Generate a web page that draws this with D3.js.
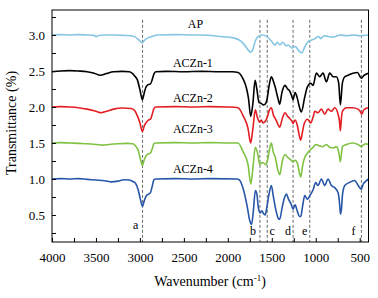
<!DOCTYPE html>
<html>
<head>
<meta charset="utf-8">
<script src="https://cdn.jsdelivr.net/npm/d3@7"></script>
<style>
  body { margin: 0; background: #fff; }
</style>
</head>
<body>
<svg id="chart" width="378" height="298" font-family="Liberation Serif"></svg>
<script>
// spectra as [wavenumber, transmittance]
const apData = [
  [4000, 3.0], [3900, 3.005], [3800, 3.0], [3700, 3.005], [3600, 3.0], [3520, 2.995], [3495, 2.975],
  [3480, 2.99], [3400, 3.0], [3300, 3.0], [3200, 2.995], [3100, 2.99], [3050, 2.97], [3010, 2.93],
  [2975, 2.89], [2945, 2.93], [2910, 2.96], [2870, 2.975], [2840, 2.99], [2800, 3.0], [2600, 3.005],
  [2400, 3.0], [2316, 3.0], [2089, 2.98], [1937, 2.96], [1870, 2.93], [1823, 2.88], [1767, 2.79],
  [1740, 2.76], [1715, 2.8], [1690, 2.91], [1653, 2.98], [1614, 3.0], [1558, 2.98], [1501, 2.91],
  [1463, 2.86], [1437, 2.9], [1406, 2.86], [1376, 2.9], [1338, 2.85], [1312, 2.86], [1273, 2.82],
  [1235, 2.84], [1198, 2.79], [1160, 2.75], [1122, 2.84], [1084, 2.91], [1046, 2.93], [1008, 2.95],
  [970, 2.98], [943, 2.95], [906, 2.99], [857, 2.98], [800, 2.97], [724, 3.0], [647, 2.99],
  [572, 3.0], [496, 2.99], [400, 3.0]
];

const aczn1 = [
  [4000, 2.49], [3900, 2.5], [3800, 2.505], [3700, 2.5], [3600, 2.49], [3520, 2.47], [3450, 2.44],
  [3380, 2.465], [3300, 2.49], [3200, 2.495], [3120, 2.49], [3080, 2.46], [3060, 2.43], [3030, 2.38],
  [3000, 2.24], [2972, 2.1], [2950, 2.2], [2930, 2.28], [2905, 2.31], [2880, 2.32], [2860, 2.38],
  [2840, 2.46], [2820, 2.49], [2700, 2.495], [2500, 2.49], [2300, 2.495], [2100, 2.49], [1950, 2.49],
  [1884, 2.48], [1827, 2.39], [1790, 2.27], [1765, 2.12], [1740, 1.87], [1715, 2.05], [1690, 2.37],
  [1670, 2.25], [1645, 2.06], [1620, 2.05], [1600, 2.03], [1575, 2.04], [1555, 2.1], [1530, 2.3],
  [1505, 2.42], [1480, 2.35], [1460, 2.27], [1430, 2.12], [1410, 2.04], [1385, 2.2], [1350, 2.3],
  [1320, 2.25], [1296, 2.22], [1270, 2.14], [1258, 2.1], [1235, 2.2], [1209, 2.12], [1190, 2.02],
  [1164, 1.93], [1125, 2.14], [1095, 2.28], [1057, 2.33], [1031, 2.3], [993, 2.47], [955, 2.42],
  [917, 2.47], [879, 2.35], [841, 2.47], [803, 2.42], [766, 2.42], [739, 2.33], [720, 2.03],
  [697, 2.33], [670, 2.42], [633, 2.44], [576, 2.47], [527, 2.48], [481, 2.4], [451, 2.44], [400, 2.47]
];

const aczn2 = [
  [4000, 2.0], [3900, 2.005], [3800, 2.0], [3700, 1.99], [3600, 1.97], [3500, 1.94], [3440, 1.92],
  [3380, 1.94], [3300, 1.97], [3200, 1.985], [3100, 1.98], [3060, 1.95], [3030, 1.88], [3000, 1.78],
  [2972, 1.66], [2950, 1.74], [2925, 1.79], [2900, 1.82], [2880, 1.83], [2860, 1.9], [2840, 1.98],
  [2820, 2.0], [2600, 2.005], [2400, 2.0], [2200, 2.005], [2000, 2.0], [1884, 1.99], [1827, 1.88],
  [1770, 1.7], [1740, 1.5], [1715, 1.7], [1687, 1.96], [1665, 1.86], [1637, 1.79], [1620, 1.82],
  [1600, 1.78], [1575, 1.8], [1551, 1.86], [1530, 1.95], [1505, 1.99], [1480, 1.88], [1460, 1.84],
  [1430, 1.76], [1410, 1.72], [1380, 1.84], [1350, 1.92], [1325, 1.88], [1296, 1.84], [1270, 1.8],
  [1258, 1.77], [1235, 1.82], [1209, 1.74], [1190, 1.62], [1172, 1.54], [1150, 1.66], [1133, 1.76],
  [1095, 1.83], [1057, 1.78], [1030, 1.86], [1012, 1.94], [974, 1.92], [936, 1.97], [898, 1.9],
  [860, 1.97], [822, 1.94], [784, 1.99], [746, 1.9], [730, 1.8], [720, 1.67], [708, 1.85],
  [697, 1.94], [650, 1.99], [580, 1.99], [520, 1.97], [495, 1.94], [476, 1.9], [455, 1.96],
  [430, 1.98], [400, 1.99]
];

const aczn3 = [
  [4000, 1.5], [3900, 1.505], [3800, 1.5], [3700, 1.495], [3600, 1.49], [3500, 1.48], [3420, 1.47],
  [3350, 1.48], [3250, 1.49], [3150, 1.495], [3080, 1.49], [3050, 1.46], [3020, 1.4], [2995, 1.28],
  [2972, 1.19], [2950, 1.27], [2925, 1.33], [2900, 1.35], [2880, 1.36], [2860, 1.42], [2840, 1.49],
  [2820, 1.5], [2600, 1.505], [2400, 1.5], [2200, 1.505], [2000, 1.5], [1884, 1.5], [1827, 1.38],
  [1770, 1.2], [1738, 0.93], [1715, 1.15], [1687, 1.44], [1660, 1.35], [1637, 1.2], [1610, 1.23],
  [1590, 1.22], [1565, 1.2], [1545, 1.28], [1525, 1.42], [1505, 1.5], [1485, 1.38], [1460, 1.3],
  [1430, 1.12], [1410, 1.06], [1380, 1.25], [1350, 1.34], [1320, 1.3], [1296, 1.28], [1270, 1.25],
  [1258, 1.24], [1235, 1.26], [1209, 1.22], [1185, 1.08], [1170, 1.03], [1150, 1.18], [1133, 1.27],
  [1095, 1.36], [1057, 1.41], [1030, 1.44], [1000, 1.48], [955, 1.46], [917, 1.45], [879, 1.48],
  [841, 1.44], [803, 1.43], [766, 1.45], [746, 1.41], [732, 1.32], [720, 1.24], [708, 1.35],
  [697, 1.45], [650, 1.48], [580, 1.5], [520, 1.48], [481, 1.45], [460, 1.47], [430, 1.49], [400, 1.48]
];

const aczn4 = [
  [4000, 1.0], [3900, 1.005], [3800, 1.0], [3700, 1.005], [3600, 0.995], [3500, 0.985], [3400, 0.975],
  [3320, 0.96], [3250, 0.97], [3180, 0.99], [3120, 0.985], [3080, 0.965], [3050, 0.94], [3020, 0.85],
  [2995, 0.72], [2972, 0.62], [2950, 0.7], [2925, 0.77], [2900, 0.79], [2880, 0.81], [2860, 0.9],
  [2840, 0.99], [2820, 1.0], [2600, 1.005], [2400, 1.0], [2200, 1.005], [1900, 1.0], [1870, 0.99],
  [1827, 0.87], [1780, 0.62], [1750, 0.42], [1730, 0.37], [1710, 0.55], [1687, 0.84], [1671, 0.8],
  [1650, 0.58], [1630, 0.53], [1612, 0.56], [1595, 0.52], [1575, 0.5], [1560, 0.58], [1530, 0.8],
  [1505, 0.91], [1480, 0.74], [1450, 0.55], [1425, 0.45], [1410, 0.44], [1380, 0.62], [1350, 0.76],
  [1334, 0.79], [1310, 0.72], [1280, 0.65], [1258, 0.58], [1235, 0.64], [1209, 0.55], [1185, 0.48],
  [1170, 0.48], [1150, 0.62], [1125, 0.77], [1095, 0.72], [1057, 0.79], [1030, 0.85], [1000, 0.95],
  [974, 0.91], [936, 1.0], [898, 0.91], [860, 1.0], [822, 0.91], [784, 0.88], [746, 0.81],
  [732, 0.7], [718, 0.51], [705, 0.62], [697, 0.77], [670, 0.91], [620, 0.95], [560, 0.98],
  [500, 0.88], [480, 0.86], [460, 0.93], [430, 0.97], [400, 1.0]
];

const seriesNames = ['AP', 'ACZn-1', 'ACZn-2', 'ACZn-3', 'ACZn-4'];
const seriesColors = ['#86c6e4', '#000000', '#e31e24', '#7fc241', '#2756a8'];
const seriesData = [apData, aczn1, aczn2, aczn3, aczn4];

const peakLabels = ['a', 'b', 'c', 'd', 'e', 'f'];
const peakWavenumbers = [2970, 1635, 1552, 1258, 1068, 481];

const xTicks = d3.range(4000, 399, -250);
const yTicks = d3.range(0.25, 3.3, 0.25);

const serif = 'Liberation Serif';

const width = 378,
      height = 298,
      margin = {left: 52, right: 9.5, top: 10, bottom: 56};

const svg = d3.select('#chart');

const x = d3.scaleLinear()
            .domain([4000, 400])
            .range([margin.left, width - margin.right]);

const y = d3.scaleLinear()
            .domain([0.125, 3.347])
            .range([height - margin.bottom, margin.top]);

// dashed guide lines at the marked bands
svg.selectAll('line.guide')
   .data(peakWavenumbers)
   .enter()
   .append('line')
   .attr('class', 'guide')
   .attr('x1', d => x(d))
   .attr('x2', d => x(d))
   .attr('y1', y(3.21))
   .attr('y2', y.range()[0])
   .attr('stroke', '#444')
   .attr('stroke-width', 0.8)
   .attr('stroke-dasharray', '3,2');

const line = d3.line()
               .x(d => x(d[0]))
               .y(d => y(d[1]))
               .curve(d3.curveMonotoneX);

svg.selectAll('path.spectrum')
   .data(seriesData)
   .enter()
   .append('path')
   .attr('class', 'spectrum')
   .attr('d', line)
   .attr('fill', 'none')
   .attr('stroke', (d, i) => seriesColors[i])
   .attr('stroke-width', 1.6)
   .attr('stroke-linejoin', 'round');

// series names
const nameSpots = [[2455, 3.097], [2625, 2.556], [2625, 2.069], [2625, 1.639], [2625, 1.083]];
svg.selectAll('text.name')
   .data(seriesNames)
   .enter()
   .append('text')
   .attr('class', 'name')
   .attr('x', (d, i) => x(nameSpots[i][0]))
   .attr('y', (d, i) => y(nameSpots[i][1]))
   .attr('font-family', serif)
   .attr('font-size', 12)
   .text(d => d);

// peak letters
const letterOffsets = [-7, -7, 5, -5, -5, -8];
svg.selectAll('text.peak')
   .data(peakLabels)
   .enter()
   .append('text')
   .attr('class', 'peak')
   .attr('x', (d, i) => x(peakWavenumbers[i]) + letterOffsets[i])
   .attr('y', (d, i) => i === 0 ? 229 : 235)
   .attr('text-anchor', 'middle')
   .attr('font-family', serif)
   .attr('font-size', 12)
   .text(d => d);

// frame
svg.append('rect')
   .attr('x', margin.left)
   .attr('y', margin.top)
   .attr('width', width - margin.left - margin.right)
   .attr('height', height - margin.top - margin.bottom)
   .attr('fill', 'none')
   .attr('stroke', '#000')
   .attr('stroke-width', 1);

const xAxis = d3.axisBottom(x)
                .tickValues(xTicks)
                .tickSize(-4)
                .tickPadding(11)
                .tickFormat(d => d % 500 === 0 ? d : '');

const yAxis = d3.axisLeft(y)
                .tickValues(yTicks)
                .tickSize(-4)
                .tickPadding(7)
                .tickFormat(d => Math.abs(d * 2 - Math.round(d * 2)) < 1e-6 ? d3.format('.1f')(d) : '');

const gx = svg.append('g')
              .attr('transform', 'translate(0,' + (height - margin.bottom) + ')')
              .call(xAxis);

const gy = svg.append('g')
              .attr('transform', 'translate(' + margin.left + ',0)')
              .call(yAxis);

[gx, gy].forEach(g => {
  g.attr('font-family', serif).attr('font-size', 13);
  g.select('.domain').remove();
  g.selectAll('text').attr('font-family', serif).attr('fill', '#000');
  g.selectAll('line').attr('stroke', '#000');
});

svg.append('text')
   .attr('transform', 'translate(16,123) rotate(-90)')
   .attr('text-anchor', 'middle')
   .attr('font-family', serif)
   .attr('font-size', 14)
   .text('Transmittance (%)');

const xt = svg.append('text')
              .attr('x', 210)
              .attr('y', 286)
              .attr('text-anchor', 'middle')
              .attr('font-family', serif)
              .attr('font-size', 14);
xt.append('tspan').text('Wavenumber (cm');
xt.append('tspan').attr('dy', -5).attr('font-size', 9).text('-1');
xt.append('tspan').attr('dy', 5).text(')');
</script>
</body>
</html>
